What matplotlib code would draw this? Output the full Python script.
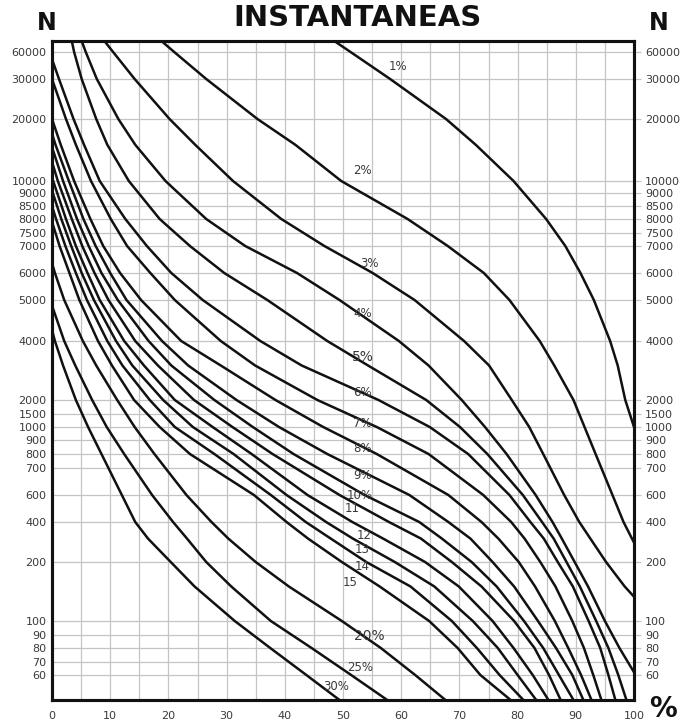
import numpy as np
import matplotlib
matplotlib.use('Agg')
import matplotlib.pyplot as plt
from matplotlib.ticker import FixedLocator, NullLocator

# the N axis of this chart is not a true log scale: tick values and their height (px above the bottom)
n_scale = [50, 60, 70, 80, 90, 100, 200, 400, 600, 700, 800, 900, 1000, 1500, 2000,
           4000, 5000, 6000, 7000, 7500, 8000, 8500, 9000, 10000, 20000, 30000, 60000, 80000]
h_scale = [0, 25, 38, 52, 65, 79, 138, 178, 205, 232, 246, 260, 273, 286, 300,
           359, 400, 427, 454, 467, 481, 494, 507, 519, 581, 621, 648, 659]

n_ticks = [60, 70, 80, 90, 100, 200, 400, 600, 700, 800, 900, 1000, 1500, 2000,
           4000, 5000, 6000, 7000, 7500, 8000, 8500, 9000, 10000, 20000, 30000, 60000]
pct_ticks = list(range(0, 101, 10))

# curves: percent (x) against N (y)
x_1 = [48.5, 51.3, 58.1, 67.7, 72.8, 79.3, 84.9, 88.2, 90.8, 93.1, 95.9, 97.2, 98.5, 100]
n_1 = [80000, 60000, 30000, 20000, 15000, 10000, 8000, 7000, 6000, 5000, 4000, 3000, 2000, 1000]

x_2 = [18.8, 21.0, 26.5, 35.3, 41.8, 49.7, 61.1, 68.0, 74.2, 78.6, 83.8, 86.3, 89.6, 91.5, 93.4, 96.3, 98.2, 100]
n_2 = [80000, 60000, 30000, 20000, 15000, 10000, 8000, 7000, 6000, 5000, 4000, 3000, 2000, 1000, 800, 600, 400, 280]

x_3 = [9.0, 10.5, 14.2, 20.2, 24.6, 31.1, 39.4, 46.8, 55.1, 62.3, 70.8, 75.1, 79.0, 82.0, 84.4, 88.0, 90.6, 92.5, 95.2, 98.4, 100]
n_3 = [80000, 60000, 30000, 20000, 15000, 10000, 8000, 7000, 6000, 5000, 4000, 3000, 2000, 1000, 800, 600, 400, 300, 200, 150, 133]

x_4 = [5.1, 5.8, 7.7, 11.4, 14.3, 19.5, 26.5, 33.2, 42.1, 49.4, 59.6, 64.7, 70.4, 74.4, 78.1, 83.1, 86.0, 87.6, 89.8, 92.1, 95.0, 97.5, 100]
n_4 = [80000, 60000, 30000, 20000, 15000, 10000, 8000, 7000, 6000, 5000, 4000, 3000, 2000, 1000, 800, 600, 400, 300, 200, 150, 100, 80, 62]

x_5 = [3.4, 3.8, 5.1, 7.6, 9.5, 13.2, 18.5, 23.7, 29.6, 37.0, 47.3, 54.3, 64.3, 70.1, 74.8, 80.9, 84.2, 86.2, 88.4, 90.7, 93.5, 95.6, 97.3, 98.7]
n_5 = [80000, 60000, 30000, 20000, 15000, 10000, 8000, 7000, 6000, 5000, 4000, 3000, 2000, 1000, 800, 600, 400, 300, 200, 150, 100, 80, 60, 50]

x_6 = [0, 1.2, 3.7, 5.5, 8.2, 12.6, 16.3, 20.5, 25.9, 35.8, 42.9, 56.1, 64.9, 71.5, 78.6, 82.2, 84.5, 86.9, 89.5, 92.2, 94.2, 95.6, 96.8]
n_6 = [50000, 30000, 20000, 15000, 10000, 8000, 7000, 6000, 5000, 4000, 3000, 2000, 1000, 800, 600, 400, 300, 200, 150, 100, 80, 60, 50]

x_7 = [0, 2.4, 4.1, 6.7, 10.1, 12.9, 16.9, 21.1, 29.0, 34.9, 45.6, 55.8, 64.7, 74.1, 78.9, 81.2, 83.9, 86.5, 89.4, 91.4, 93.0, 94.4]
n_7 = [30000, 20000, 15000, 10000, 8000, 7000, 6000, 5000, 4000, 3000, 2000, 1000, 800, 600, 400, 300, 200, 150, 100, 80, 60, 50]

x_8 = [0, 1.5, 3.8, 6.6, 8.8, 11.7, 15.3, 22.2, 29.0, 38.4, 46.6, 55.8, 68.1, 73.8, 76.7, 80.2, 83.0, 86.4, 88.7, 90.9, 92.7]
n_8 = [20000, 15000, 10000, 8000, 7000, 6000, 5000, 4000, 3000, 2000, 1000, 800, 600, 400, 300, 200, 150, 100, 80, 60, 50]

x_9 = [0, 0.6, 2.9, 5.4, 7.5, 10.0, 12.8, 18.9, 23.4, 31.7, 39.0, 47.3, 61.4, 68.1, 71.9, 75.7, 79.4, 83.5, 86.6, 89.4, 91.3]
n_9 = [17000, 15000, 10000, 8000, 7000, 6000, 5000, 4000, 3000, 2000, 1000, 800, 600, 400, 300, 200, 150, 100, 80, 60, 50]

x_10 = [0, 1.9, 4.3, 6.3, 8.5, 11.3, 16.6, 20.5, 27.9, 34.5, 41.5, 53.7, 63.1, 67.0, 72.1, 76.4, 81.1, 84.4, 87.1, 89.6]
n_10 = [14600, 10000, 8000, 7000, 6000, 5000, 4000, 3000, 2000, 1000, 800, 600, 400, 300, 200, 150, 100, 80, 60, 50]

x_11 = [0, 1.0, 3.4, 5.2, 7.3, 9.7, 14.3, 18.2, 24.4, 31.0, 37.9, 49.4, 57.9, 63.4, 68.7, 73.8, 79.4, 82.9, 85.4, 87.4]
n_11 = [12400, 10000, 8000, 7000, 6000, 5000, 4000, 3000, 2000, 1000, 800, 600, 400, 300, 200, 150, 100, 80, 60, 50]

x_12 = [0, 0.2, 2.4, 4.1, 6.1, 8.2, 12.4, 15.8, 21.1, 27.6, 34.3, 43.9, 51.6, 56.9, 64.1, 69.9, 75.7, 79.3, 82.6, 85.3]
n_12 = [10500, 10000, 8000, 7000, 6000, 5000, 4000, 3000, 2000, 1000, 800, 600, 400, 300, 200, 150, 100, 80, 60, 50]

x_13 = [0, 1.6, 3.3, 5.1, 7.2, 11.0, 13.8, 19.1, 24.2, 31.2, 40.3, 47.1, 51.7, 58.9, 65.7, 72.3, 76.6, 80.0, 83.2]
n_13 = [9200, 8000, 7000, 6000, 5000, 4000, 3000, 2000, 1000, 800, 600, 400, 300, 200, 150, 100, 80, 60, 50]

x_14 = [0, 0.7, 2.3, 4.1, 6.0, 9.5, 12.1, 16.8, 21.1, 27.9, 37.6, 43.6, 47.9, 54.0, 61.6, 68.7, 73.0, 76.9, 81.0]
n_14 = [8500, 8000, 7000, 6000, 5000, 4000, 3000, 2000, 1000, 800, 600, 400, 300, 200, 150, 100, 80, 60, 50]

x_15 = [0, 1.3, 3.0, 4.7, 7.9, 10.3, 14.1, 18.5, 23.7, 34.7, 40.3, 44.0, 49.8, 56.3, 64.8, 69.7, 73.6, 78.8]
n_15 = [7900, 7000, 6000, 5000, 4000, 3000, 2000, 1000, 800, 600, 400, 300, 200, 150, 100, 80, 60, 50]

x_20 = [0, 0.5, 2.1, 5.3, 7.6, 11.2, 14.2, 17.6, 23.1, 27.4, 30.3, 35.0, 40.7, 49.8, 56.5, 62.4, 67.6]
n_20 = [6350, 6000, 5000, 4000, 3000, 2000, 1000, 800, 600, 400, 300, 200, 150, 100, 80, 60, 50]

x_25 = [0, 2.1, 4.0, 6.9, 9.4, 12.4, 17.2, 20.8, 23.2, 26.5, 30.8, 37.6, 44.6, 51.4, 57.6]
n_25 = [4850, 4000, 3000, 2000, 1000, 800, 600, 400, 300, 200, 150, 100, 80, 60, 50]

x_30 = [0, 0.5, 1.9, 4.1, 6.2, 8.5, 12.0, 14.3, 16.5, 20.4, 24.5, 31.4, 37.5, 43.7, 49.4]
n_30 = [4250, 4000, 3000, 2000, 1000, 800, 600, 400, 300, 200, 150, 100, 80, 60, 50]

curves = [(x_1, n_1), (x_2, n_2), (x_3, n_3), (x_4, n_4), (x_5, n_5), (x_6, n_6),
          (x_7, n_7), (x_8, n_8), (x_9, n_9), (x_10, n_10), (x_11, n_11), (x_12, n_12),
          (x_13, n_13), (x_14, n_14), (x_15, n_15), (x_20, n_20), (x_25, n_25), (x_30, n_30)]

curve_labels = ['1%', '2%', '3%', '4%', '5%', '6%', '7%', '8%', '9%', '10%',
                '11', '12', '13', '14', '15', '20%', '25%', '30%']
# label spots, in axes fraction
label_pos = [(0.594, 0.962), (0.533, 0.804), (0.545, 0.663), (0.533, 0.587), (0.534, 0.520),
             (0.533, 0.466), (0.534, 0.420), (0.533, 0.381), (0.534, 0.341), (0.529, 0.310),
             (0.515, 0.290), (0.536, 0.249), (0.533, 0.228), (0.533, 0.203), (0.512, 0.178),
             (0.546, 0.097), (0.529, 0.049), (0.488, 0.020)]

log_scale = np.log10(n_scale)


def fwd(v):
    v = np.clip(np.asarray(v, dtype=float), 1e-6, None)
    return np.interp(np.log10(v), log_scale, h_scale)


def inv(h):
    return 10 ** np.interp(np.asarray(h, dtype=float), h_scale, log_scale)


fig = plt.figure(figsize=(6.88, 7.24), dpi=100)
ax = fig.add_axes([52 / 688, 24 / 724, 582 / 688, 659 / 724])

grid_col = '#c4c4c4'
txt_col = '#3a3a3a'

ax.set_yscale('function', functions=(fwd, inv))
ax.set_ylim(50, 80000)
ax.set_xlim(0, 100)

ax.yaxis.set_major_locator(FixedLocator(n_ticks))
ax.yaxis.set_minor_locator(NullLocator())
ax.set_yticklabels([str(v) for v in n_ticks])
ax.set_xticks(pct_ticks)
ax.set_xticklabels([str(v) for v in pct_ticks])
ax.set_xticks(range(5, 100, 10), minor=True)

ax.grid(True, which='both', color=grid_col, lw=0.9)
ax.tick_params(axis='x', which='both', length=0, pad=8, labelsize=8, labelcolor=txt_col)
ax.tick_params(axis='y', which='both', length=0, pad=4, labelsize=8, labelcolor=txt_col)

# second y axis for the right side labels
ax2 = ax.twinx()
ax2.set_yscale('function', functions=(fwd, inv))
ax2.set_ylim(50, 80000)
ax2.yaxis.set_major_locator(FixedLocator(n_ticks))
ax2.yaxis.set_minor_locator(NullLocator())
ax2.set_yticklabels([str(v) for v in n_ticks])
ax2.tick_params(axis='y', length=5, width=0.9, color=grid_col, pad=3, labelsize=8, labelcolor=txt_col)

for a in (ax, ax2):
    for s in a.spines.values():
        s.set_linewidth(2.2)
        s.set_color('#111111')

for (xs, ns) in curves:
    ax.plot(xs, ns, color='#111111', lw=1.8, solid_joinstyle='round', zorder=3)

for lab, (fx, fy) in zip(curve_labels, label_pos):
    size = 10 if lab in ('5%', '20%') else 8.5
    ax.text(fx, fy, lab, transform=ax.transAxes, ha='center', va='center',
            fontsize=size, color=txt_col, zorder=4)

fig.text(357 / 688, 1 - 18 / 724, 'INSTANTANEAS', ha='center', va='center',
         fontsize=21, fontweight='heavy', color='#111111')
fig.text(47 / 688, 1 - 23 / 724, 'N', ha='center', va='center',
         fontsize=17, fontweight='heavy', color='#111111')
fig.text(659 / 688, 1 - 23 / 724, 'N', ha='center', va='center',
         fontsize=17, fontweight='heavy', color='#111111')
fig.text(663 / 688, 1 - 709 / 724, '%', ha='center', va='center',
         fontsize=20, fontweight='heavy', color='#111111')

fig.savefig('out.png', dpi=100)
